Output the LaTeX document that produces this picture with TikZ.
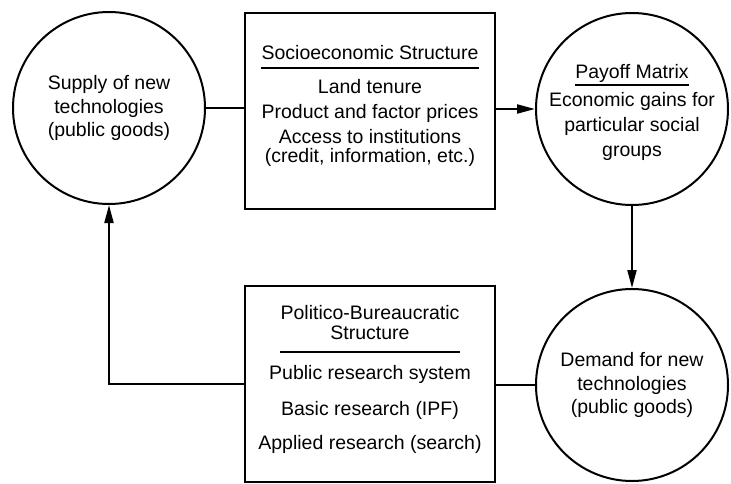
\documentclass[tikz,border=0pt]{standalone}
\usepackage{fontspec}
\setmainfont{Liberation Sans}
\usepackage{tikz}
\usetikzlibrary{arrows.meta,shapes,positioning}
\tikzstyle{bubble} = [draw, circle, line width=2pt, minimum size=192pt, inner sep=0pt, align=center]
\tikzstyle{panel} = [draw, rectangle, line width=2pt, minimum width=250pt, minimum height=196pt, inner sep=0pt]
\tikzstyle{item} = [align=center, inner sep=0pt, anchor=base]
\tikzstyle{link} = [line width=2pt]
\tikzstyle{arrow} = [line width=2pt, -{Triangle[length=18pt,width=9pt]}]
\tikzstyle{rule} = [line width=1.6pt]

\begin{document}
\begin{tikzpicture}[x=1pt, y=-1pt, font=\fontsize{19.5}{23.5}\selectfont]
\useasboundingbox (0,0) rectangle (731,483);

% circles
\node[bubble] (supply) at (109,108) {Supply of new\\technologies\\(public goods)};
\node[bubble] (payoff) at (632,109) {};
\node[bubble] (demand) at (632,385) {Demand for new\\technologies\\(public goods)};

% boxes
\node[panel] (socio) at (370,110.5) {};
\node[panel] (polit) at (370,383.5) {};

% socioeconomic structure
\node[item] (socioT) at (370,59) {Socioeconomic Structure};
\draw[rule] ([yshift=-9pt]socioT.base west) -- ([yshift=-9pt]socioT.base east);
\node[item] (land) at (370,93) {Land tenure};
\node[item] (prices) at (370,118) {Product and factor prices};
\node[item, font=\fontsize{19.5}{19}\selectfont] (access) at (370,162) {Access to institutions\\(credit, information, etc.)};

% payoff matrix
\node[item] (payoffT) at (632,78) {Payoff Matrix};
\draw[rule] ([yshift=-7pt]payoffT.base west) -- ([yshift=-7pt]payoffT.base east);
\node[item, font=\fontsize{19.5}{25}\selectfont] (gains) at (632,156) {Economic gains for\\particular social\\groups};

% politico-bureaucratic structure
\node[item, font=\fontsize{19.5}{20}\selectfont] (politT) at (370,339) {Politico-Bureaucratic\\Structure};
\draw[rule] ([yshift=-13pt]politT.base west) -- ([yshift=-13pt]politT.base east);
\node[item] (public) at (370,379) {Public research system};
\node[item] (basic) at (370,415) {Basic research (IPF)};
\node[item] (applied) at (370,449) {Applied research (search)};

% connectors
\draw[link] (supply.east) -- (supply.east -| socio.west);
\draw[arrow] (socio.east |- payoff.west) -- (payoff.west);
\draw[arrow] (payoff.south) -- (demand.north);
\draw[link] (polit.east |- demand.west) -- (demand.west);
\draw[arrow] (polit.west) -| (supply.south);
\end{tikzpicture}
\end{document}
